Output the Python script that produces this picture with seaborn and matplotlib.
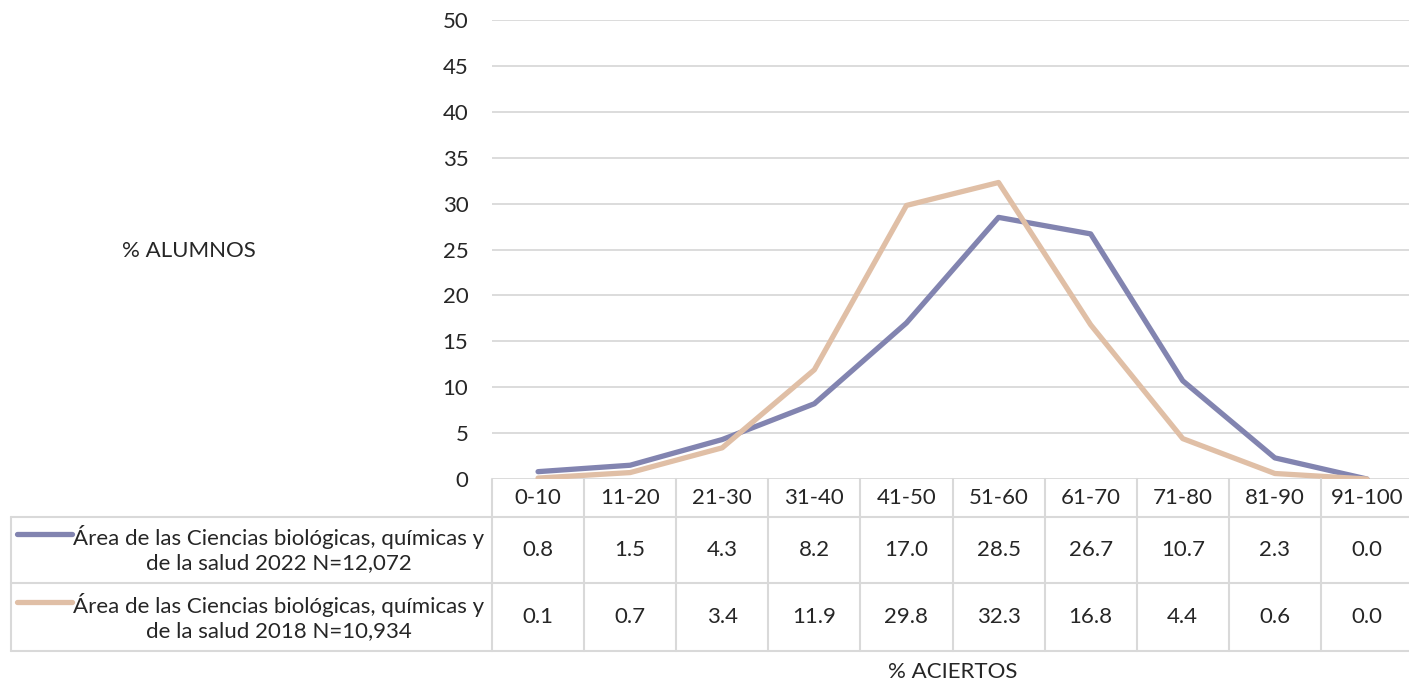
import numpy as np
import pandas as pd
import seaborn as sns
import matplotlib.pyplot as plt
import matplotlib.transforms as mtransforms
from matplotlib.lines import Line2D

# data
categories = ["0-10", "11-20", "21-30", "31-40", "41-50", "51-60", "61-70", "71-80", "81-90", "91-100"]
vals_2022 = [0.8, 1.5, 4.3, 8.2, 17.0, 28.5, 26.7, 10.7, 2.3, 0.0]
vals_2018 = [0.1, 0.7, 3.4, 11.9, 29.8, 32.3, 16.8, 4.4, 0.6, 0.0]
series_names = ["Área de las Ciencias biológicas, químicas y\nde la salud 2022 N=12,072",
                "Área de las Ciencias biológicas, químicas y\nde la salud 2018 N=10,934"]
colors = ["#8284b0", "#e0bfa6"]

df = pd.DataFrame({
    "pos": list(range(len(categories))) * 2,
    "value": vals_2022 + vals_2018,
    "serie": [series_names[0]] * len(categories) + [series_names[1]] * len(categories),
})

sns.set_style("white")
plt.rcParams["font.family"] = ["Lato", "DejaVu Sans"]
FS = 16

W, H = 1409, 681
fig = plt.figure(figsize=(W / 100, H / 100), dpi=100)
ax = fig.add_axes([492 / W, 1 - 479 / H, (1413 - 492) / W, (479 - 20) / H])

sns.lineplot(data=df, x="pos", y="value", hue="serie", palette=colors,
             linewidth=3.8, sort=False, legend=False, ax=ax)

ax.set_xlim(-0.5, len(categories) - 0.5)
ax.set_ylim(0, 50)
ax.set_yticks(range(0, 51, 5))
ax.tick_params(axis="y", labelsize=FS, length=0, pad=17)
ax.set_xticks([])
ax.set_xlabel("")
ax.set_ylabel("")
ax.grid(axis="y", color="#d9d9d9", linewidth=1.3)
ax.set_axisbelow(True)
for s in ax.spines.values():
    s.set_visible(False)

# data table under the chart
tr = mtransforms.blended_transform_factory(ax.transData, fig.transFigure)
fy = lambda p: 1 - p / H
grid_kw = dict(color="#d9d9d9", linewidth=1.5, clip_on=False)

y_top, y_r1, y_r2, y_bot = 479, 517, 583, 651
for i in range(len(categories) + 1):
    ax.add_line(Line2D([i - 0.5, i - 0.5], [fy(y_top), fy(y_bot)], transform=tr, **grid_kw))
for yy in (y_r1, y_r2, y_bot):
    fig.add_artist(Line2D([11 / W, 1.0], [fy(yy), fy(yy)], transform=fig.transFigure, **grid_kw))
fig.add_artist(Line2D([11 / W, 11 / W], [fy(y_r1), fy(y_bot)], transform=fig.transFigure, **grid_kw))

for i, c in enumerate(categories):
    ax.text(i, fy(498), c, transform=tr, ha="center", va="center", fontsize=FS)
    ax.text(i, fy(550), f"{vals_2022[i]:.1f}", transform=tr, ha="center", va="center", fontsize=FS)
    ax.text(i, fy(617), f"{vals_2018[i]:.1f}", transform=tr, ha="center", va="center", fontsize=FS)

for name, col, yc in zip(series_names, colors, (549, 617)):
    fig.text(279 / W, fy(yc), name, ha="center", va="center", fontsize=FS, linespacing=1.2)
    fig.add_artist(Line2D([17 / W, 72 / W], [fy(yc - 15), fy(yc - 15)], color=col,
                          linewidth=3.8, solid_capstyle="round", transform=fig.transFigure))

fig.text(189 / W, fy(251), "% ALUMNOS", ha="center", va="center", fontsize=FS)
fig.text(953 / W, fy(672), "% ACIERTOS", ha="center", va="center", fontsize=FS)

fig.savefig("out.png", dpi=100)
